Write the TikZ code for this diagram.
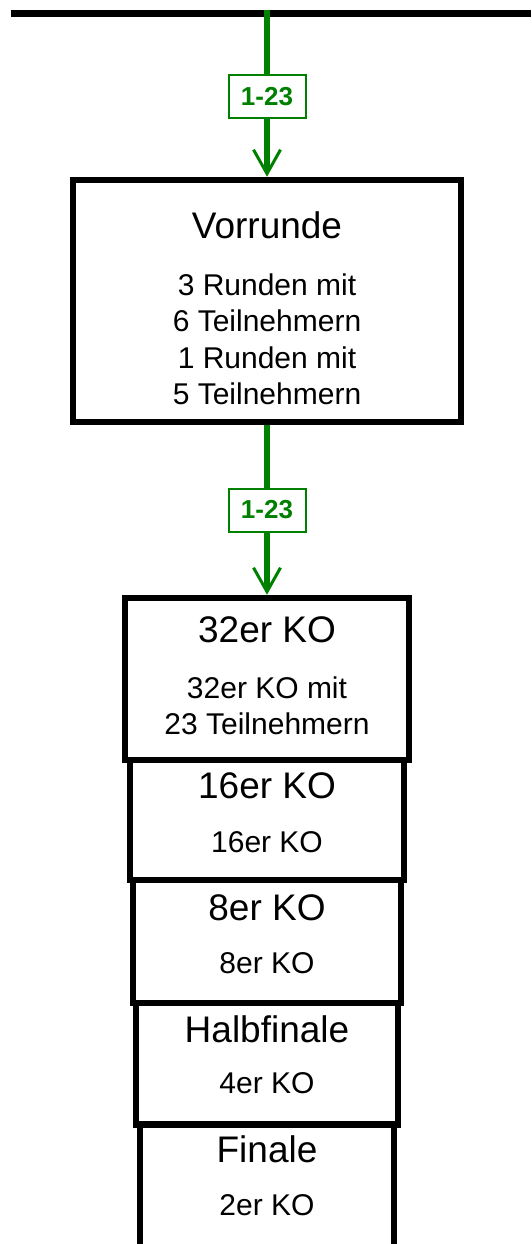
\documentclass[tikz,border=0pt]{standalone}
\usepackage{fontspec}
\setmainfont{Liberation Sans}
\usetikzlibrary{arrows.meta}
\definecolor{flowgreen}{RGB}{0,128,0}
\begin{document}
\begin{tikzpicture}[x=1pt,y=-1pt,
  box/.style={draw=black, line width=6.5pt, fill=white, inner sep=0pt},
  ttl/.style={anchor=base, font=\fontsize{37}{44}\selectfont, inner sep=0pt},
  sub/.style={anchor=base, font=\fontsize{30}{36}\selectfont, inner sep=0pt},
  flow/.style={draw=flowgreen, line width=6pt, -{Straight Barb[length=24pt,width=27pt,line width=3pt]}},
  lbl/.style={draw=flowgreen, line width=2pt, fill=white, text=flowgreen,
    font=\bfseries\fontsize{26}{30}\selectfont, minimum width=77pt, minimum height=43pt, inner sep=0pt},
  bus/.style={draw=black, line width=6.5pt}
]
\clip (0,0) rectangle (531,1244);
% bus
\coordinate (busL) at (11,13.4);
\coordinate (busR) at (531,13.4);
\coordinate (busT) at (267,10);
\draw[bus] (busL) -- (busR);
% boxes
\node[box, minimum width=388pt, minimum height=242pt] (vor) at (267,301) {};
\node[box, minimum width=284pt, minimum height=162pt] (ko32) at (267,679) {};
\node[box, minimum width=274pt, minimum height=120pt] (ko16) at (267,820) {};
\node[box, minimum width=268pt, minimum height=123pt] (ko8) at (267,941.5) {};
\node[box, minimum width=262pt, minimum height=121.5pt] (halb) at (267,1063.75) {};
\node[box, minimum width=254pt, minimum height=135.5pt] (fin) at (267,1192.25) {};
% texts
\node[ttl] (vorT) at (267,238) {Vorrunde};
\node[sub] (vorS1) at (267,295) {3 Runden mit};
\node[sub] (vorS2) at (267,331.5) {6 Teilnehmern};
\node[sub] (vorS3) at (267,368) {1 Runden mit};
\node[sub] (vorS4) at (267,404.5) {5 Teilnehmern};
\node[ttl] (ko32T) at (267,642) {32er KO};
\node[sub] (ko32S1) at (267,698) {32er KO mit};
\node[sub] (ko32S2) at (267,734.5) {23 Teilnehmern};
\node[ttl] (ko16T) at (267,798) {16er KO};
\node[sub] (ko16S) at (267,852) {16er KO};
\node[ttl] (ko8T) at (267,920) {8er KO};
\node[sub] (ko8S) at (267,973) {8er KO};
\node[ttl] (halbT) at (267,1042) {Halbfinale};
\node[sub] (halbS) at (267,1093) {4er KO};
\node[ttl] (finT) at (267,1162) {Finale};
\node[sub] (finS) at (267,1215) {2er KO};
% connectors
\draw[flow] (busT) -- (vor.north);
\draw[flow] (vor.south) -- (ko32.north);
% labels
\node[lbl] (l1) at (267,96.5) {1-23};
\node[lbl] (l2) at (267,510) {1-23};
\end{tikzpicture}
\end{document}
